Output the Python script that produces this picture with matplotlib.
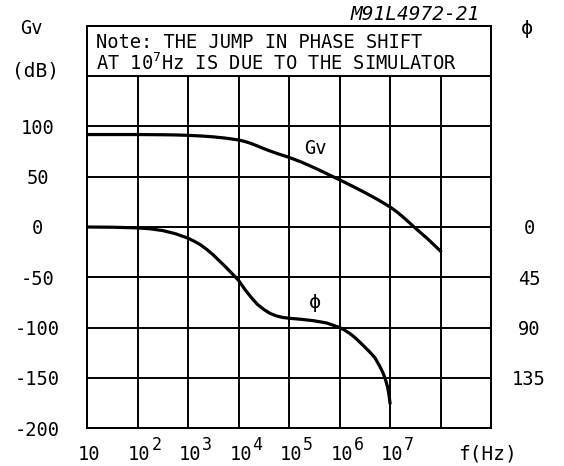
# -*- coding: utf-8 -*-

import matplotlib
matplotlib.use('Agg')
import matplotlib.pyplot as plt
import matplotlib.transforms as mtransforms
from matplotlib.ticker import NullLocator
import numpy as np

plt.rcParams['font.family'] = ['DejaVu Sans Mono', 'DejaVu Sans']
plt.rcParams['mathtext.fontset'] = 'custom'
plt.rcParams['mathtext.rm'] = 'DejaVu Sans Mono'
plt.rcParams['mathtext.it'] = 'DejaVu Sans Mono:italic'
plt.rcParams['mathtext.bf'] = 'DejaVu Sans Mono:bold'

# open loop voltage gain (dB) vs log10 of frequency
gain_log_f = [1.0, 1.5, 2.0, 2.5, 2.75, 3.0, 3.25, 3.5, 3.75, 4.0, 4.125,
              4.25, 4.375, 4.5, 4.625, 4.75, 4.875, 5.0, 5.25, 5.5, 5.75,
              6.0, 6.25, 6.5, 6.75, 7.0, 7.125, 7.25, 7.375, 7.5, 7.75, 8.0]
gain_db = [92, 92, 92, 91.8, 91.6, 91.2, 90.6, 89.7, 88.4, 86.6, 85.1,
           83.1, 80.6, 78, 75.6, 73.4, 71.3, 69.3, 64.5, 59, 53,
           47, 40.8, 34.3, 27.5, 20, 15.5, 10.3, 4.7, -1, -12, -24]

# phase shift (degrees of lag) vs log10 of frequency
phase_log_f = [1.0, 1.5, 2.0, 2.25, 2.5, 2.75, 3.0, 3.125, 3.25, 3.375, 3.5,
               3.75, 4.0, 4.125, 4.25, 4.375, 4.5, 4.625, 4.75, 4.875, 5.0,
               5.25, 5.5, 5.75, 6.0, 6.1, 6.2, 6.3, 6.4, 6.5, 6.6, 6.7,
               6.8, 6.85, 6.9, 6.95, 6.975, 7.0]
phase_deg = [0, 0.2, 0.8, 1.6, 3.2, 6, 10, 12.8, 16, 20.2, 25,
             36, 47.7, 55.8, 63, 69.3, 73.8, 77.4, 79.6, 81, 81.7,
             82.7, 84, 86, 90, 92.3, 95.2, 98.8, 103, 107.5, 112, 117,
             125, 129.5, 135, 143, 149, 157.5]

x_ticks = [1e1, 1e2, 1e3, 1e4, 1e5, 1e6, 1e7]
x_exponents = [None, 2, 3, 4, 5, 6, 7]
grid_f = [1e2, 1e3, 1e4, 1e5, 1e6, 1e7, 1e8]
gain_ticks = [-200, -150, -100, -50, 0, 50, 100]
grid_gain = [-150, -100, -50, 0, 50, 100, 150]
phase_ticks = [0, 45, 90, 135]

FS = 13.5
LW_GRID = 1.4
LW_CURVE = 2.3


def plot_gain_phase():
    fig = plt.figure(figsize=(5.64, 4.66), dpi=100)
    ax = fig.add_axes([87 / 564, 1 - 428 / 466, 404 / 564, 402 / 466])
    ax.set_xscale('log')
    ax.set_xlim(10, 1e9)
    ax.set_ylim(-200, 200)
    ax.xaxis.set_minor_locator(NullLocator())

    # grid stops under the note box
    ax.vlines(grid_f, -200, 150, colors='black', linewidth=LW_GRID, zorder=1)
    ax.hlines(grid_gain, 10, 1e9, colors='black', linewidth=LW_GRID, zorder=1)
    for sp in ax.spines.values():
        sp.set_linewidth(LW_GRID)

    ax.plot(10 ** np.array(gain_log_f), gain_db, color='black',
            linewidth=LW_CURVE, solid_joinstyle='round', zorder=3)

    # x tick labels: base '10' on the line, exponent drawn beside it
    ax.set_xticks(x_ticks)
    ax.set_xticklabels(['10'] * len(x_ticks))
    ax.tick_params(axis='x', length=0, pad=12, labelsize=FS)
    shift = mtransforms.ScaledTranslation(0.02, 0, fig.dpi_scale_trans)
    for lab in ax.get_xticklabels():
        lab.set_transform(lab.get_transform() + shift)
    xdata_yaxes = mtransforms.blended_transform_factory(ax.transData, ax.transAxes)
    for f, n in zip(x_ticks, x_exponents):
        if n is None:
            continue
        off = mtransforms.ScaledTranslation(0.14, -0.22, fig.dpi_scale_trans)
        ax.text(f, 0, str(n), transform=xdata_yaxes + off, fontsize=FS - 1.5,
                ha='left', va='baseline', clip_on=False)

    ax.set_yticks(gain_ticks)
    ax.set_yticklabels([str(v) for v in gain_ticks])
    ax.tick_params(axis='y', length=0, pad=35.6, labelsize=FS)
    for lab in ax.get_yticklabels():
        lab.set_horizontalalignment('center')

    # phase on the right, 45 deg per 50 dB, lag downwards
    ax2 = ax.twinx()
    ax2.set_ylim(180, -180)
    ax2.plot(10 ** np.array(phase_log_f), phase_deg, color='black',
             linewidth=LW_CURVE, solid_joinstyle='round', zorder=3)
    ax2.set_yticks(phase_ticks)
    ax2.set_yticklabels([str(v) for v in phase_ticks])
    ax2.tick_params(axis='y', length=0, pad=27.4, labelsize=FS)
    for lab in ax2.get_yticklabels():
        lab.set_horizontalalignment('center')
    for sp in ax2.spines.values():
        sp.set_linewidth(LW_GRID)

    # note box text
    ax.text(14.9, 178.4, 'Note: THE JUMP IN PHASE SHIFT', fontsize=FS,
            va='baseline', ha='left')
    ax.text(14.9, 156.2, r'AT $\mathregular{10^7}$Hz IS DUE TO THE SIMULATOR',
            fontsize=FS, va='baseline', ha='left')

    # curve names
    ax.text(10 ** 5.515, 78.6, 'Gv', fontsize=FS, ha='center', va='center')
    ax.text(10 ** 5.515, -75, 'ϕ', fontsize=FS + 1, ha='center', va='center')

    # axis titles
    fig.text(31 / 564, 1 - 29 / 466, 'Gv', fontsize=FS, ha='center', va='center')
    fig.text(36 / 564, 1 - 71 / 466, '(dB)', fontsize=FS + 0.5, ha='center', va='center')
    fig.text(527 / 564, 1 - 29 / 466, 'ϕ', fontsize=FS + 1, ha='center', va='center')
    fig.text(488 / 564, 1 - 454 / 466, 'f(Hz)', fontsize=FS + 0.5, ha='center', va='center')
    fig.text(415 / 564, 1 - 14.5 / 466, 'M91L4972-21', fontsize=14,
             style='italic', ha='center', va='center')

    fig.savefig('out.png', dpi=100)


if __name__ == '__main__':
    plot_gain_phase()
